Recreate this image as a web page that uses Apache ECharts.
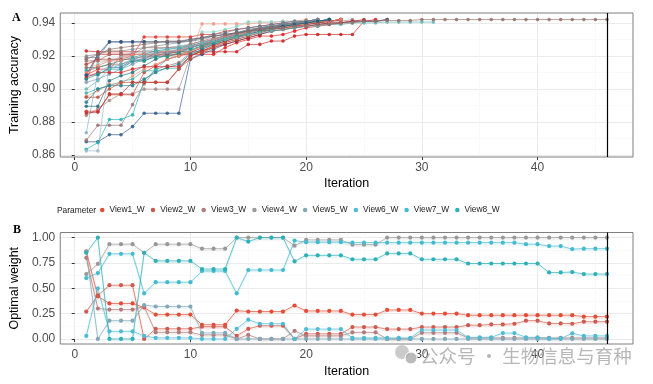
<!DOCTYPE html>
<html>
<head>
<meta charset="utf-8">
<script src="https://cdn.jsdelivr.net/npm/echarts@6/dist/echarts.min.js"></script>
<style>html,body{margin:0;padding:0;background:#fff}#c{width:653px;height:384px}</style>
</head>
<body>
<div id="c"></div>
<script>
// ---------- Panel A: training accuracy per run (value at iteration 1, 2, ...) ----------
const run01 = [0.906,0.921,0.921,0.921,0.921,0.921,0.921,0.921,0.921,0.921,0.921,0.921,0.925,0.928,0.930,0.932,0.932,0.933,0.935,0.937,0.938,0.939,0.940,0.941,0.941,0.942];
const run02 = [0.923,0.9225,0.9225,0.9225,0.9225,0.9225,0.9225,0.9225,0.9225,0.9225,0.9225,0.9225,0.9225,0.9225,0.927,0.927,0.929,0.929,0.932,0.933,0.933,0.933,0.933,0.933,0.941,0.941,0.942];
const run03 = [0.9085,0.912,0.912,0.920,0.920,0.9315,0.9315,0.9315,0.9315,0.9315,0.933,0.933,0.935,0.936,0.937,0.938,0.939,0.940,0.941,0.941,0.942];
const run04 = [0.915,0.917,0.917,0.919,0.919,0.919,0.920,0.920,0.920,0.921,0.9394,0.9394,0.9394,0.9394,0.9394,0.940,0.940,0.941,0.941,0.942];
const run05 = [0.912,0.915,0.918,0.918,0.920,0.922,0.924,0.925,0.926,0.927,0.9345,0.9345,0.936,0.938,0.9406,0.9406,0.9406,0.941,0.941,0.941,0.942];
const run06 = [0.868,0.868,0.8723,0.8723,0.8772,0.8853,0.8853,0.8853,0.8853,0.918,0.921,0.924,0.927,0.929,0.931,0.933,0.935,0.936,0.937,0.938,0.939,0.940,0.940,0.941,0.941,0.941,0.942];
const run07 = [0.869,0.878,0.878,0.878,0.8905,0.903,0.912,0.914,0.916,0.922,0.925,0.927,0.929,0.931,0.934,0.936,0.937,0.938,0.939,0.940,0.940,0.941,0.942];
const run08 = [0.8635,0.8675,0.8815,0.8815,0.8843,0.905,0.912,0.918,0.920,0.923,0.926,0.928,0.930,0.932,0.934,0.936,0.938,0.939,0.940,0.940,0.941,0.941,0.942];
const run09 = [0.8625,0.8625,0.916,0.920,0.922,0.923,0.924,0.925,0.926,0.927,0.929,0.930,0.932,0.934,0.935,0.937,0.938,0.939,0.940,0.941,0.941,0.942];
const run10 = [0.8735,0.910,0.914,0.914,0.916,0.919,0.921,0.923,0.924,0.925,0.927,0.929,0.931,0.933,0.935,0.937,0.938,0.939,0.940,0.940,0.941,0.942];
const run11 = [0.884,0.888,0.893,0.897,0.897,0.8999,0.8999,0.8999,0.8999,0.920,0.923,0.926,0.928,0.930,0.932,0.934,0.936,0.937,0.938,0.939,0.940,0.941,0.941,0.942];
const run12 = [0.8855,0.886,0.897,0.897,0.904,0.904,0.904,0.904,0.912,0.920,0.923,0.925,0.927,0.929,0.931,0.933,0.935,0.936,0.937,0.938,0.939,0.940,0.940,0.941,0.942];
const run13 = [0.8865,0.8865,0.8965,0.8965,0.8965,0.910,0.914,0.918,0.920,0.922,0.925,0.928,0.930,0.932,0.934,0.936,0.937,0.938,0.939,0.940,0.941,0.941,0.942];
const run14 = [0.8895,0.8895,0.905,0.908,0.910,0.914,0.918,0.921,0.923,0.925,0.927,0.929,0.931,0.933,0.935,0.936,0.938,0.939,0.940,0.941,0.941,0.942];
const run15 = [0.911,0.913,0.915,0.917,0.919,0.921,0.923,0.924,0.925,0.926,0.928,0.930,0.932,0.934,0.936,0.937,0.938,0.939,0.940,0.941,0.942];
const run16 = [0.919,0.919,0.9285,0.9285,0.9285,0.9285,0.9285,0.9285,0.9285,0.929,0.931,0.933,0.934,0.936,0.937,0.938,0.939,0.940,0.941,0.941,0.942];
const run17 = [0.917,0.917,0.921,0.921,0.921,0.925,0.925,0.925,0.925,0.927,0.929,0.931,0.932,0.934,0.935,0.937,0.938,0.939,0.940,0.941,0.941,0.942];
const run18 = [0.915,0.918,0.918,0.918,0.918,0.920,0.920,0.922,0.922,0.925,0.927,0.929,0.931,0.933,0.935,0.936,0.937,0.938,0.939,0.940,0.941,0.941,0.942];
const run19 = [0.913,0.913,0.915,0.915,0.917,0.917,0.920,0.920,0.921,0.923,0.926,0.929,0.930,0.932,0.934,0.936,0.937,0.939,0.940,0.941,0.942];
const run20 = [0.9085,0.9085,0.913,0.913,0.918,0.918,0.922,0.922,0.924,0.926,0.928,0.930,0.932,0.934,0.935,0.937,0.938,0.939,0.940,0.941,0.942];
const run21 = [0.904,0.906,0.909,0.912,0.915,0.918,0.920,0.922,0.923,0.925,0.927,0.929,0.931,0.933,0.934,0.936,0.937,0.938,0.939,0.940,0.941,0.941,0.942];
const run22 = [0.8975,0.900,0.902,0.9045,0.906,0.911,0.911,0.9125,0.9125,0.920,0.924,0.927,0.930,0.932,0.934,0.936,0.937,0.938,0.939,0.940,0.941,0.942];
const run23 = [0.8955,0.899,0.903,0.903,0.908,0.912,0.915,0.918,0.920,0.923,0.926,0.928,0.930,0.932,0.934,0.936,0.937,0.938,0.939,0.940,0.941,0.942];
const run24 = [0.892,0.900,0.902,0.902,0.902,0.906,0.910,0.913,0.915,0.921,0.924,0.927,0.929,0.931,0.933,0.935,0.937,0.938,0.939,0.940,0.941,0.942];
const run25 = [0.907,0.910,0.910,0.910,0.912,0.9135,0.9135,0.9135,0.9135,0.920,0.923,0.926,0.929,0.931,0.933,0.935,0.936,0.937,0.938,0.939,0.940,0.941,0.942];
const run26 = [0.895,0.895,0.900,0.904,0.904,0.904,0.904,0.904,0.9125,0.918,0.922,0.925,0.928,0.930,0.932,0.934,0.936,0.937,0.938,0.939,0.940,0.941,0.942];
const run27 = [0.920,0.921,0.923,0.923,0.924,0.925,0.926,0.927,0.928,0.929,0.930,0.932,0.933,0.934,0.936,0.937,0.938,0.939,0.940,0.941,0.942];
const run28 = [0.910,0.914,0.917,0.917,0.921,0.921,0.921,0.923,0.923,0.926,0.928,0.930,0.932,0.933,0.935,0.936,0.937,0.938,0.939,0.940,0.941,0.941,0.942];
const run29 = [0.906,0.909,0.912,0.912,0.917,0.917,0.9195,0.9195,0.922,0.924,0.926,0.928,0.930,0.932,0.933,0.935,0.936,0.938,0.939,0.940,0.941,0.942];
const run30 = [0.9085,0.921,0.9285,0.9285,0.9285,0.9285,0.9285,0.9285,0.9285,0.930,0.931,0.932,0.933,0.934,0.935,0.936,0.937,0.938,0.939,0.940,0.941,0.942];
const run31 = [0.900,0.905,0.912,0.915,0.918,0.920,0.922,0.924,0.925,0.926,0.928,0.929,0.930,0.931,0.933,0.934,0.935,0.936,0.937,0.938,0.938,0.939,0.939,0.940,0.940,0.940,0.9405,0.9405,0.9405,0.9405,0.9405];
const run32 = [0.918,0.921,0.924,0.925,0.926,0.927,0.928,0.929,0.929,0.930,0.931,0.932,0.933,0.934,0.935,0.936,0.937,0.937,0.938,0.938,0.939,0.939,0.940,0.940,0.941,0.941,0.9415,0.9415,0.9415,0.942,0.942,0.942,0.942,0.942,0.942,0.942,0.942,0.942,0.942,0.942,0.942,0.942,0.942,0.942,0.942,0.942];
const accuracyRuns = [run01,run02,run03,run04,run05,run06,run07,run08,run09,run10,run11,run12,run13,run14,run15,run16,run17,run18,run19,run20,run21,run22,run23,run24,run25,run26,run27,run28,run29,run30,run31,run32];
const runColors = ['#E31A1C','#C8201E','#E0302A','#EE9A86','#8FD3C8','#2F5B8A','#9C7070','#22B4B4','#9DB7C6','#86AECB','#A88A8A','#B22222','#CC3A30','#1F6F80','#2A9D9D','#5A7F9A','#A07070','#A85050','#8E6A60','#4A78A8','#7C9CB4','#3AB0A8','#E8967A','#1F7F8C','#D62728','#C04A3A','#8C8C8C','#F08070','#139A8E','#2E4F7A','#63B7B7','#93706A'];

// ---------- Panel B: optimal weight per view (iterations 1..46) ----------
const iterations = [1,2,3,4,5,6,7,8,9,10,11,12,13,14,15,16,17,18,19,20,21,22,23,24,25,26,27,28,29,30,31,32,33,34,35,36,37,38,39,40,41,42,43,44,45,46];
const view1W = [0.865,0.42,0.35,0.35,0.35,0.31,0.24,0.24,0.24,0.24,0.14,0.14,0.14,0.28,0.27,0.27,0.27,0.27,0.33,0.276,0.276,0.276,0.276,0.24,0.24,0.24,0.286,0.286,0.286,0.25,0.25,0.25,0.25,0.234,0.234,0.234,0.234,0.234,0.234,0.234,0.234,0.234,0.234,0.22,0.22,0.22];
const view2W = [0.27,0.43,0.53,0.53,0.53,0.0,0.10,0.10,0.10,0.10,0.12,0.12,0.12,0.03,0.10,0.13,0.13,0.13,0.0,0.05,0.05,0.05,0.05,0.117,0.117,0.117,0.097,0.097,0.097,0.117,0.117,0.117,0.117,0.136,0.136,0.143,0.143,0.15,0.18,0.18,0.153,0.153,0.15,0.17,0.17,0.17];
const view3W = [0.80,0.30,0.29,0.29,0.29,0.32,0.065,0.065,0.065,0.065,0.04,0.04,0.04,0.0,0.04,0.0,0.0,0.0,0.08,0.03,0.03,0.03,0.03,0.065,0.065,0.065,0.0,0.0,0.0,0.06,0.06,0.06,0.06,0.01,0.01,0.01,0.01,0.01,0.01,0.01,0.01,0.01,0.01,0.01,0.01,0.01];
const view4W = [0.64,0.74,0.935,0.935,0.935,0.85,0.935,0.935,0.935,0.935,0.89,0.89,0.89,1.0,1.0,1.0,1.0,1.0,0.92,0.977,0.977,0.977,0.977,0.93,0.93,0.93,1.0,1.0,1.0,1.0,1.0,1.0,1.0,1.0,1.0,1.0,1.0,1.0,1.0,1.0,1.0,1.0,1.0,1.0,1.0,1.0];
const view5W = [0.86,0.0,0.18,0.18,0.18,0.335,0.32,0.32,0.32,0.32,0.06,0.06,0.06,0.0,0.0,0.0,0.0,0.0,0.0,0.0,0.0,0.0,0.0,0.0,0.0,0.0,0.0,0.0,0.0,0.0,0.0,0.0,0.0,0.0,0.0,0.0,0.0,0.0,0.0,0.0,0.0,0.0,0.0,0.0,0.0,0.0];
const view6W = [0.03,0.50,0.075,0.075,0.075,0.03,0.01,0.01,0.01,0.01,0.0,0.0,0.0,0.10,0.19,0.15,0.15,0.15,0.0,0.097,0.097,0.097,0.097,0.01,0.01,0.01,0.01,0.01,0.01,0.088,0.088,0.088,0.088,0.016,0.016,0.016,0.058,0.058,0.016,0.016,0.005,0.005,0.055,0.03,0.03,0.03];
const view7W = [0.60,0.65,0.84,0.84,0.84,0.45,0.56,0.56,0.56,0.56,0.67,0.67,0.67,0.45,0.68,0.68,0.68,0.68,0.97,0.955,0.955,0.955,0.955,0.95,0.95,0.95,0.95,0.95,0.95,0.95,0.95,0.95,0.95,0.95,0.95,0.95,0.95,0.95,0.935,0.935,0.916,0.916,0.886,0.89,0.89,0.89];
const view8W = [0.85,1.0,0.0,0.0,0.0,0.85,0.77,0.77,0.77,0.77,0.69,0.69,0.69,1.0,0.96,1.0,1.0,1.0,0.766,0.825,0.825,0.825,0.825,0.786,0.786,0.786,0.844,0.844,0.844,0.786,0.786,0.786,0.786,0.744,0.744,0.744,0.744,0.744,0.744,0.744,0.656,0.656,0.66,0.64,0.64,0.64];
const viewNames = ['View1_W','View2_W','View3_W','View4_W','View5_W','View6_W','View7_W','View8_W'];
const viewSeries = [view1W,view2W,view3W,view4W,view5W,view6W,view7W,view8W];
const viewColors = ['#E64B35','#CF5A4E','#B27C7C','#999999','#80A8B6','#4DBBD5','#42BACF','#2DB0B8'];
const viewShadows = ['rgba(230,75,53,0.35)','rgba(207,90,78,0.35)','rgba(178,124,124,0.35)','rgba(153,153,153,0.35)','rgba(128,168,182,0.35)','rgba(77,187,213,0.35)','rgba(66,186,207,0.35)','rgba(45,176,184,0.35)'];

const finalIteration = 46;
const xTicks = [0,10,20,30,40];
const xMinor = [5,15,25,35,45];
const accTicks = [0.86,0.88,0.90,0.92,0.94];
const accMinor = [0.87,0.89,0.91,0.93];
const wTicks = [0,0.25,0.5,0.75,1.0];
const wMinor = [0.125,0.375,0.625,0.875];

const FONT = 'Liberation Sans';
const chart = echarts.init(document.getElementById('c'), null, {renderer:'canvas'});

function majorAxis(grid, min, max, ticks, fmt, name, gap){
  return {
    type:'value', gridIndex:grid, min:min, max:max,
    name:name, nameLocation:'middle', nameGap:gap,
    nameTextStyle:{color:'#000', fontSize:12.5, fontFamily:FONT},
    axisLine:{show:false},
    axisTick:{show:true, length:3, customValues:ticks, lineStyle:{color:'#333', width:1}},
    axisLabel:{show:true, customValues:ticks, margin:5, color:'#4D4D4D', fontSize:12, fontFamily:FONT, formatter:fmt},
    splitLine:{show:true, lineStyle:{color:'#EBEBEB', width:1}}
  };
}
function minorAxis(grid, min, max, ticks){
  return {
    type:'value', gridIndex:grid, min:min, max:max,
    axisLine:{show:false},
    axisTick:{show:false, customValues:ticks},
    axisLabel:{show:false, customValues:ticks},
    splitLine:{show:true, lineStyle:{color:'#F5F5F5', width:0.6}}
  };
}

const series = [];
accuracyRuns.forEach((run, k) => {
  series.push({
    type:'line', xAxisIndex:0, yAxisIndex:0, silent:true, z:3,
    data: run.map((v,i)=>[i+1, v]),
    symbol:'circle', symbolSize:3.6, showSymbol:true,
    lineStyle:{width:0.8, color:runColors[k], opacity:0.85},
    itemStyle:{color:runColors[k], opacity:0.85}
  });
});
viewSeries.forEach((vals, k) => {
  series.push({
    name:viewNames[k], type:'line', xAxisIndex:2, yAxisIndex:2, silent:true, z:3,
    data: vals.map((v,i)=>[iterations[i], v]),
    symbol:'circle', symbolSize:4.2, showSymbol:true,
    lineStyle:{width:0.8, color:viewColors[k], opacity:0.9, shadowColor:viewShadows[k], shadowBlur:1.5, shadowOffsetY:1.5},
    itemStyle:{color:viewColors[k]}
  });
});
const vline = {silent:true, symbol:'none', label:{show:false}, animation:false,
  lineStyle:{color:'#000', width:1.2, type:'solid', shadowBlur:0, shadowOffsetY:0}, data:[{xAxis:finalIteration}]};
series[0].markLine = vline;
series[accuracyRuns.length].markLine = vline;

chart.setOption({
  animation:false,
  backgroundColor:'#fff',
  textStyle:{fontFamily:FONT},
  grid:[
    {left:55, right:20, top:13, height:144, show:true, borderColor:'#7F7F7F', borderWidth:1, backgroundColor:'transparent', z:4},
    {left:55, right:20, top:232.5, height:111.5, show:true, borderColor:'#7F7F7F', borderWidth:1, backgroundColor:'transparent', z:4}
  ],
  xAxis:[
    majorAxis(0, -1.25, 48.25, xTicks, v=>String(v), 'Iteration', 20),
    minorAxis(0, -1.25, 48.25, xMinor),
    majorAxis(1, -1.25, 48.25, xTicks, v=>String(v), 'Iteration', 21),
    minorAxis(1, -1.25, 48.25, xMinor)
  ],
  yAxis:[
    majorAxis(0, 0.8588, 0.946, accTicks, v=>v.toFixed(2), 'Training accuracy', 33),
    minorAxis(0, 0.8588, 0.946, accMinor),
    majorAxis(1, -0.05, 1.05, wTicks, v=>v.toFixed(2), 'Optimal weight', 33),
    minorAxis(1, -0.05, 1.05, wMinor)
  ],
  legend:{
    data:viewNames, left:100, top:206, padding:0, icon:'circle', itemWidth:4.5, itemHeight:4.5, itemGap:6,
    textStyle:{fontSize:8.4, color:'#1A1A1A', fontFamily:FONT}, selectedMode:false
  },
  graphic:[
    {type:'text', x:57, y:211, style:{text:'Parameter', fontSize:8.4, fill:'#1A1A1A', fontFamily:FONT, verticalAlign:'middle'}},
    {type:'text', left:12, top:12, style:{text:'A', fontSize:12, fontWeight:'bold', fill:'#000', fontFamily:'Liberation Sans Narrow'}},
    {type:'text', left:13, top:224, style:{text:'B', fontSize:12, fontWeight:'bold', fill:'#000', fontFamily:'Liberation Sans Narrow'}},
    {type:'circle', shape:{cx:402, cy:352, r:7}, style:{fill:'rgba(190,190,190,0.8)'}, z:100},
    {type:'circle', shape:{cx:411, cy:358, r:6}, style:{fill:'rgba(175,175,175,0.85)', stroke:'#fff', lineWidth:1}, z:100},
    {type:'text', x:420, y:356, z:100, style:{text:'公众号 · 生物信息与育种', fontSize:18.5, fill:'rgba(165,165,165,0.8)', fontFamily:'Noto Sans CJK SC', verticalAlign:'middle'}}
  ],
  series:series
});
</script>
</body>
</html>
